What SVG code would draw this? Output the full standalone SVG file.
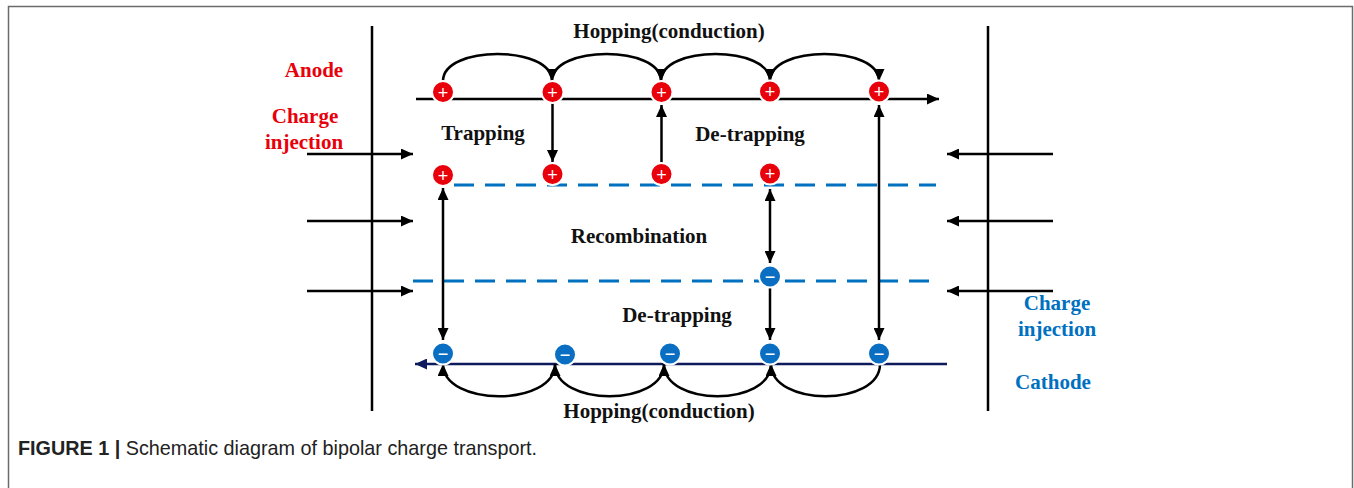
<svg xmlns="http://www.w3.org/2000/svg" width="1354" height="488" viewBox="0 0 1354 488">
<style>
.lbl{font-family:"Liberation Serif","Times New Roman",serif;font-weight:bold;font-size:21px;text-anchor:middle;fill:#111}
.red{fill:#e8000b}
.blu{fill:#0070c0}
.ln{stroke:#000;stroke-width:2.5;fill:none}
.dash{stroke:#0070c0;stroke-width:3;stroke-dasharray:20 11;fill:none}
.pos circle{fill:#e8000b;stroke:#fff;stroke-width:2}
.neg circle{fill:#0a6fc2;stroke:#fff;stroke-width:2}
.sym{font-family:"Liberation Sans",Arial,sans-serif;font-size:18px;fill:#fff;text-anchor:middle}
.cap{font-family:"Liberation Sans",Arial,sans-serif;font-size:19.8px;fill:#222}
</style>
<defs>
<marker id="ah" markerUnits="userSpaceOnUse" markerWidth="12" markerHeight="11" refX="12" refY="5.5" orient="auto-start-reverse"><path d="M0,0 L12,5.5 L0,11 z" fill="#000"/></marker>
<marker id="ahn" markerUnits="userSpaceOnUse" markerWidth="12" markerHeight="11" refX="12" refY="5.5" orient="auto"><path d="M0,0 L12,5.5 L0,11 z" fill="#0d1a5c"/></marker>
</defs>
<rect width="1354" height="488" fill="#fff"/>
<g id="frame" stroke="#6b6b6b" stroke-width="1.5" fill="none">
<path d="M8.5,488 L8.5,6.5 L1352.5,6.5 L1352.5,488"/>
</g>
<g id="electrodes" class="ln">
<line x1="372" y1="26" x2="372" y2="411"/>
<line x1="988" y1="26" x2="988" y2="411"/>
</g>
<g id="traps">
<line class="dash" x1="454" y1="185" x2="936" y2="185"/>
<line class="dash" x1="413" y1="281" x2="936" y2="281"/>
</g>
<g id="connectors">
<line class="ln" x1="416" y1="99" x2="939" y2="99" marker-end="url(#ah)"/>
<line x1="947" y1="364" x2="415" y2="364" stroke="#0d1a5c" stroke-width="2.5" marker-end="url(#ahn)"/>
<line class="ln" x1="307" y1="154" x2="413" y2="154" marker-end="url(#ah)"/>
<line class="ln" x1="307" y1="221" x2="413" y2="221" marker-end="url(#ah)"/>
<line class="ln" x1="307" y1="291" x2="413" y2="291" marker-end="url(#ah)"/>
<line class="ln" x1="1053" y1="154" x2="947" y2="154" marker-end="url(#ah)"/>
<line class="ln" x1="1053" y1="221" x2="947" y2="221" marker-end="url(#ah)"/>
<line class="ln" x1="1053" y1="291" x2="947" y2="291" marker-end="url(#ah)"/>
<path class="ln" d="M443,81 C443,45 552,45 552,81" marker-end="url(#ah)"/>
<path class="ln" d="M552,81 C552,45 661,45 661,81" marker-end="url(#ah)"/>
<path class="ln" d="M661,81 C661,45 770,45 770,81" marker-end="url(#ah)"/>
<path class="ln" d="M770,81 C770,45 879,45 879,81" marker-end="url(#ah)"/>
<path class="ln" d="M880,364 C880,407 771,407 771,364" marker-end="url(#ah)"/>
<path class="ln" d="M771,364 C771,407 664,407 664,364" marker-end="url(#ah)"/>
<path class="ln" d="M664,364 C664,407 555,407 555,364" marker-end="url(#ah)"/>
<path class="ln" d="M555,364 C555,407 443,407 443,364" marker-end="url(#ah)"/>
<line class="ln" x1="552.5" y1="103" x2="552.5" y2="162" marker-end="url(#ah)"/>
<line class="ln" x1="661.5" y1="165" x2="661.5" y2="105" marker-end="url(#ah)"/>
<line class="ln" x1="443" y1="188" x2="443" y2="340" marker-start="url(#ah)" marker-end="url(#ah)"/>
<line class="ln" x1="770" y1="189" x2="770" y2="263" marker-start="url(#ah)" marker-end="url(#ah)"/>
<line class="ln" x1="770" y1="287" x2="770" y2="340" marker-end="url(#ah)"/>
<line class="ln" x1="879" y1="105" x2="879" y2="340" marker-start="url(#ah)" marker-end="url(#ah)"/>
</g>
<g id="holes-transport" class="pos">
<circle cx="443" cy="92" r="11"/><circle cx="552.5" cy="92" r="11"/><circle cx="661.5" cy="92" r="11"/><circle cx="770" cy="91.5" r="11"/><circle cx="879" cy="91.5" r="11"/>
<text class="sym" x="443" y="98.5">+</text><text class="sym" x="552.5" y="98.5">+</text><text class="sym" x="661.5" y="98.5">+</text><text class="sym" x="770" y="98">+</text><text class="sym" x="879" y="98">+</text>
</g>
<g id="holes-trapped" class="pos">
<circle cx="443" cy="175" r="11"/><circle cx="552.5" cy="174" r="11"/><circle cx="661.5" cy="174" r="11"/><circle cx="770" cy="173.5" r="11"/>
<text class="sym" x="443" y="181.5">+</text><text class="sym" x="552.5" y="180.5">+</text><text class="sym" x="661.5" y="180.5">+</text><text class="sym" x="770" y="180">+</text>
</g>
<g id="electron-trapped" class="neg">
<circle cx="770" cy="276.5" r="11"/>
<text class="sym" x="770" y="282.5">−</text>
</g>
<g id="electrons-transport" class="neg">
<circle cx="443" cy="353.5" r="11"/><circle cx="565" cy="354.5" r="11"/><circle cx="670" cy="353.5" r="11"/><circle cx="770" cy="353.5" r="11"/><circle cx="879" cy="353.5" r="11"/>
<text class="sym" x="443" y="359.5">−</text><text class="sym" x="565" y="360.5">−</text><text class="sym" x="670" y="359.5">−</text><text class="sym" x="770" y="359.5">−</text><text class="sym" x="879" y="359.5">−</text>
</g>
<g id="labels">
<text class="lbl" x="669" y="38">Hopping(conduction)</text>
<text class="lbl" x="483" y="140">Trapping</text>
<text class="lbl" x="750" y="141">De-trapping</text>
<text class="lbl" x="639" y="243">Recombination</text>
<text class="lbl" x="677" y="322">De-trapping</text>
<text class="lbl" x="659" y="418">Hopping(conduction)</text>
</g>
<g id="anode-labels">
<text class="lbl red" x="314" y="77">Anode</text>
<text class="lbl red" x="305" y="123">Charge</text>
<text class="lbl red" x="304" y="149">injection</text>
</g>
<g id="cathode-labels">
<text class="lbl blu" x="1057" y="310">Charge</text>
<text class="lbl blu" x="1057" y="336">injection</text>
<text class="lbl blu" x="1053" y="389">Cathode</text>
</g>
<g id="caption">
<text class="cap" x="18" y="455"><tspan font-weight="bold">FIGURE 1 |</tspan> Schematic diagram of bipolar charge transport.</text>
</g>
</svg>
